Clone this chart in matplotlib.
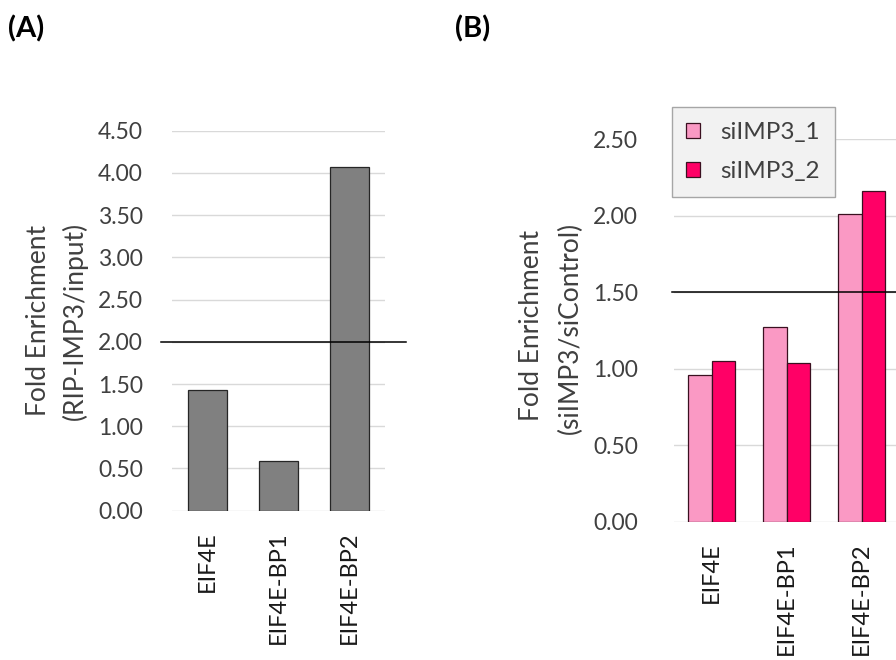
import numpy as np
import matplotlib
matplotlib.use("Agg")
import matplotlib.pyplot as plt

plt.rcParams['font.family'] = ['Lato', 'DejaVu Sans']

# Data
genes = ['EIF4E', 'EIF4E-BP1', 'EIF4E-BP2']
rip_enrichment = [1.43, 0.59, 4.07]          # panel A
si1_enrichment = [0.96, 1.27, 2.01]          # panel B, siIMP3_1
si2_enrichment = [1.05, 1.04, 2.16]          # panel B, siIMP3_2
series_names = ['siIMP3_1', 'siIMP3_2']
a_ticks = [0.0, 0.5, 1.0, 1.5, 2.0, 2.5, 3.0, 3.5, 4.0, 4.5]
b_ticks = [0.0, 0.5, 1.0, 1.5, 2.0, 2.5]
a_cutoff = 2.0
b_cutoff = 1.5

W, H = 896, 660
fig = plt.figure(figsize=(W / 100, H / 100), dpi=100)

def px_axes(left, top, right, bottom):
    return fig.add_axes([left / W, 1 - bottom / H, (right - left) / W, (bottom - top) / H])

def style(ax, ticks, ypad):
    for s in ax.spines.values():
        s.set_visible(False)
    ax.set_yticks(ticks)
    ax.set_yticklabels(['%.2f' % t for t in ticks])
    ax.set_ylim(ticks[0], ticks[-1])
    ax.yaxis.grid(True, color='#d9d9d9', linewidth=1.0)
    ax.set_axisbelow(True)
    ax.tick_params(axis='y', length=0, pad=ypad, labelsize=16.5, labelcolor='#404040')
    ax.tick_params(axis='x', length=0, pad=15, labelsize=17, labelcolor='#1a1a1a')
    ax.set_xlim(-0.5, 2.5)

x = np.arange(len(genes))

# Panel A
axA = px_axes(172, 130.7, 385, 510.7)
axA.bar(x, rip_enrichment, width=0.56, color='#808080', edgecolor='#262626', linewidth=0.9)
style(axA, a_ticks, 21)
axA.set_xticks(x)
axA.set_xticklabels(genes, rotation=90, va='top', ha='center')
axA.plot([-0.655, 2.796], [a_cutoff, a_cutoff], color='black', linewidth=1.1, clip_on=False)

# Panel B
axB = px_axes(674, 139.3, 899, 521.7)
bw = 0.313
axB.bar(x - bw / 2, si1_enrichment, width=bw, color='#fa99c4', edgecolor='#3a1020',
        linewidth=0.9, label=series_names[0])
axB.bar(x + bw / 2, si2_enrichment, width=bw, color='#ff0066', edgecolor='#3a1020',
        linewidth=0.9, label=series_names[1])
style(axB, b_ticks, 26)
axB.set_xticks(x)
axB.set_xticklabels(genes, rotation=90, va='top', ha='center')
axB.plot([-0.53, 2.5], [b_cutoff, b_cutoff], color='black', linewidth=1.1, clip_on=False)

leg = axB.legend(loc='upper left', bbox_to_anchor=(671.7 / W, 1 - 107.3 / H),
                 bbox_transform=fig.transFigure, borderaxespad=0, fontsize=17.5,
                 handlelength=0.55, handleheight=0.55, handletextpad=0.85,
                 borderpad=0.6, labelspacing=0.75, fancybox=False, framealpha=1)
leg.get_frame().set_facecolor('#f2f2f2')
leg.get_frame().set_edgecolor('#a6a6a6')
for t in leg.get_texts():
    t.set_color('#404040')

# axis titles, two lines each
ylab_kw = dict(rotation=90, ha='center', va='center', fontsize=19, color='#404040')
fig.text(39 / W, 1 - 320 / H, 'Fold Enrichment', **ylab_kw)
fig.text(75 / W, 1 - 321 / H, '(RIP-IMP3/input)', **ylab_kw)
fig.text(531 / W, 1 - 325 / H, 'Fold Enrichment', **ylab_kw)
fig.text(570 / W, 1 - 328 / H, '(siIMP3/siControl)', **ylab_kw)

# panel letters
fig.text(8 / W, 1 - 29 / H, '(A)', fontsize=21, fontweight='bold', va='center', ha='left')
fig.text(455 / W, 1 - 29 / H, '(B)', fontsize=21, fontweight='bold', va='center', ha='left')

fig.savefig('out.png', dpi=100)
